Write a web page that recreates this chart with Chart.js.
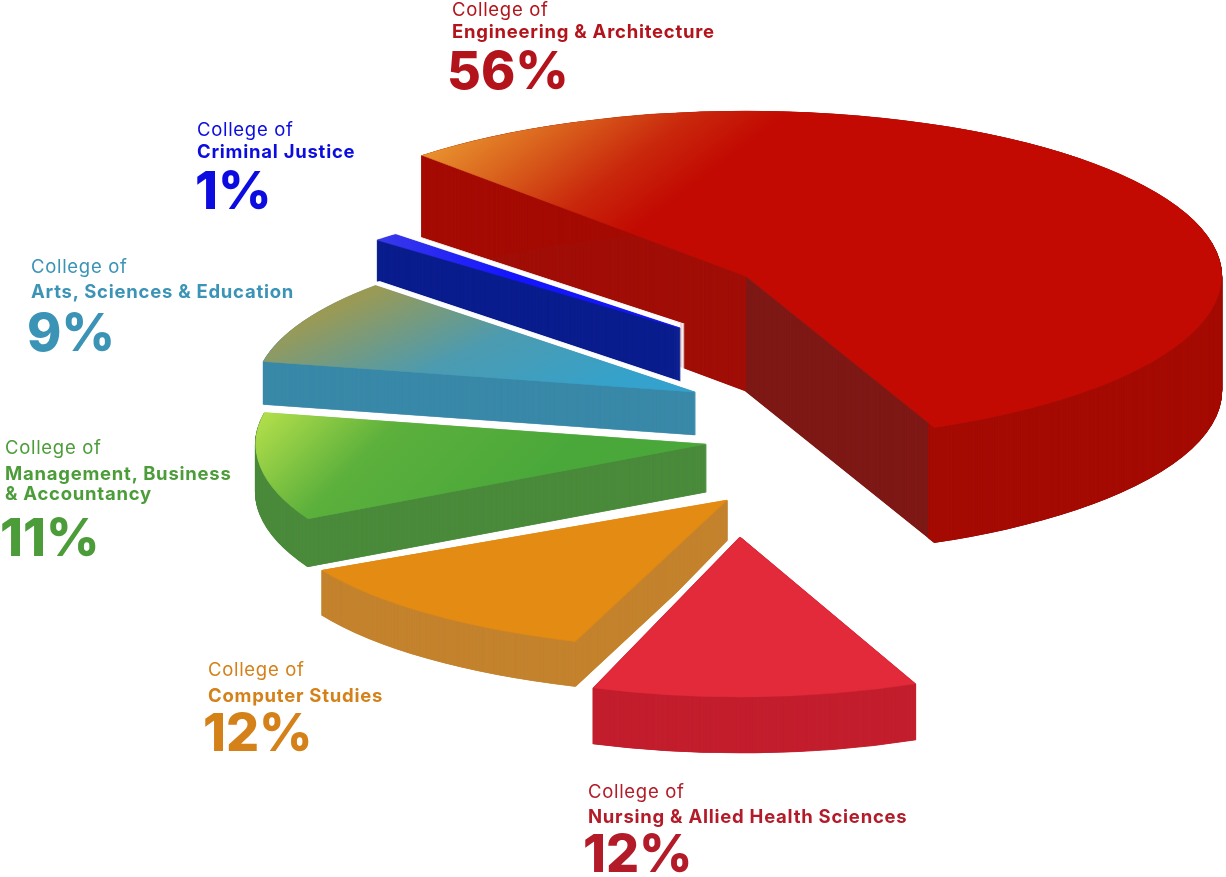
<!DOCTYPE html>
<html><head><meta charset="utf-8">
<script src="https://cdn.jsdelivr.net/npm/chart.js@4.4.1/dist/chart.umd.min.js"></script>
<style>
html,body{margin:0;padding:0;background:#fff;}
#wrap{position:relative;width:1226px;height:877px;overflow:hidden;font-family:Inter,"Noto Sans",sans-serif;}
#c{position:absolute;left:0;top:0;}
.ln{position:absolute;white-space:nowrap;line-height:1;}
</style></head><body>
<div id="wrap"><canvas id="c" width="1226" height="877"></canvas></div>
<script>
// ---- data ----
const categories = ["Engineering & Architecture", "Nursing & Allied Health Sciences", "Computer Studies",
  "Management, Business\n& Accountancy", "Arts, Sciences & Education", "Criminal Justice"];
const shares = [56, 12, 12, 11, 9, 1];
const percentLabels = ["56%", "12%", "12%", "11%", "9%", "1%"];
const prefix = "College of";

// ---- styles ----
const topColors   = ["#c20a02", "#e22a3b", "#e38b12", "#4fab3a", "#3a9fc6", "#2424f0"];
const sideColors  = ["#a10f08", "#c31f2e", "#c4832e", "#4b8b3c", "#3a89a9", "#0b1e8e"];
const frontColors = ["#7f1a17", "#c31f2e", "#c4832e", "#4b8b3c", "#3a89a9", "#0b1e8e"];
const wallColors  = ["#a50c04", "#c31f2e", "#c4832e", "#4b8b3c", "#3a89a9", "#0b1e8e"];
const labelColors = ["#b3141b", "#b31b29", "#d5811a", "#4c9d3a", "#3b93b6", "#0c0ce0"];

// ---- 3D layout (screen apex, ellipse radii, depth) ----
const geom = [
  {ax: 746, ay: 276, rx: 475, ry: 165, depth: 115},
  {ax: 740, ay: 537, rx: 442, ry: 160, depth: 56},
  {ax: 727, ay: 500, rx: 458, ry: 150, depth: 45},
  {ax: 706, ay: 444, rx: 450, ry: 160, depth: 48},
  {ax: 695, ay: 392, rx: 440, ry: 155, depth: 43},
  {ax: 680, ay: 328, rx: 417, ry: 128, depth: 56}
];
const drawOrder = [0, 5, 4, 3, 2, 1];
const labelPos = [
  {x: 452, px: 447, b: [16, 38], pb: 90},
  {x: 588, px: 583, b: [798, 823], pb: 873},
  {x: 208, px: 203, b: [676, 702], pb: 752},
  {x: 5, px: 0, b: [454, 480, 500], pb: 557},
  {x: 31, px: 27, b: [273, 298], pb: 352},
  {x: 197, px: 195, b: [136, 158], pb: 210}
];

function topFill(ctx, el, i) {
  const R = el.outerRadius, x = el.x, y = el.y, sa = el.startAngle;
  let g;
  if (i === 0) {
    const x0 = x + R * Math.cos(sa), y0 = y + R * Math.sin(sa);
    g = ctx.createLinearGradient(x0, y0, x + 0.15 * R, y - 0.35 * R);
    g.addColorStop(0, "#e8922e"); g.addColorStop(0.22, "#d9601c");
    g.addColorStop(0.45, "#c9280c"); g.addColorStop(0.65, "#c20a02"); g.addColorStop(1, "#c20a02");
    return g;
  }
  if (i === 3) {
    g = ctx.createLinearGradient(x - R, y - 0.25 * R, x - 0.3 * R, y);
    g.addColorStop(0, "#bce44c"); g.addColorStop(0.45, "#5cb03c"); g.addColorStop(1, "#4aa83a");
    return g;
  }
  if (i === 4) {
    g = ctx.createLinearGradient(x - 0.85 * R, y - 0.5 * R, x - 0.2 * R, y);
    g.addColorStop(0, "#9a9a55"); g.addColorStop(0.5, "#4c9bb0"); g.addColorStop(1, "#34a2cc");
    return g;
  }
  if (i === 5) {
    g = ctx.createLinearGradient(x - R, y, x - 0.4 * R, y);
    g.addColorStop(0, "#5858d8"); g.addColorStop(1, "#1414ff");
    return g;
  }
  return topColors[i];
}

const extrude = {
  id: "extrude",
  beforeDatasetsDraw(chart) {
    const ctx = chart.ctx;
    const W = chart.width, H = chart.height;
    const meta = chart.getDatasetMeta(0);
    drawOrder.forEach(i => {
      const el = meta.data[i];
      const g = geom[i];
      const R = el.outerRadius;
      const base = el.options;
      const paint = (dx, dy, fill, inner, bw) => {
        ctx.save();
        ctx.translate(g.ax + dx, g.ay + dy);
        ctx.scale(g.rx / R, g.ry / R);
        ctx.translate(-el.x, -el.y);
        el.options = Object.create(base, {
          backgroundColor: {value: fill}, borderColor: {value: fill},
          borderWidth: {value: bw || 0}, offset: {value: 0}, spacing: {value: 0}
        });
        const ir = el.innerRadius;
        if (inner) el.innerRadius = inner;
        el.draw(ctx);
        el.innerRadius = ir;
        el.options = base;
        ctx.restore();
      };
      const stack = (fill, inner, clipX0, clipX1) => {
        ctx.save();
        ctx.beginPath(); ctx.rect(clipX0, 0, clipX1 - clipX0, H); ctx.clip();
        for (let d = g.depth; d > 0; d -= 0.5) paint(0, d, fill, inner, 2);
        ctx.restore();
      };
      for (const dx of [-4, 0, 4]) for (let d = -4; d <= g.depth + 4; d += 1) paint(dx, d, "#ffffff", 0, 2);
      stack(sideColors[i], 0, 0, g.ax);
      stack(frontColors[i], 0, g.ax, W);
      if (wallColors[i] !== sideColors[i] || wallColors[i] !== frontColors[i]) stack(wallColors[i], R * 0.97, 0, W);
      paint(0, 0, topFill(ctx, el, i), 0, 1);
    });
    return false;
  }
};

new Chart(document.getElementById("c"), {
  type: "pie",
  data: {labels: categories, datasets: [{data: shares, backgroundColor: topColors, borderWidth: 0}]},
  options: {
    responsive: false, animation: false, events: [], rotation: -43,
    plugins: {legend: {display: false}, tooltip: {enabled: false}}
  },
  plugins: [extrude]
});

// ---- labels as real text ----
const wrap = document.getElementById("wrap");
function addLine(text, x, baseline, size, weight, color, ls) {
  const d = document.createElement("div");
  d.className = "ln"; d.textContent = text;
  d.style.left = x + "px"; d.style.top = (baseline - 0.864 * size) + "px";
  d.style.fontSize = size + "px"; d.style.fontWeight = weight; d.style.color = color;
  d.style.letterSpacing = ls + "px";
  wrap.appendChild(d);
}
categories.forEach((name, i) => {
  const p = labelPos[i];
  addLine(prefix, p.x, p.b[0], 18.5, 400, labelColors[i], 0.7);
  name.split("\n").forEach((ln, k) => addLine(ln, p.x, p.b[k + 1], 18.5, 700, labelColors[i], 0.75));
  addLine(percentLabels[i], p.px, p.pb, 52, 800, labelColors[i], 0);
});
</script>
</body></html>
